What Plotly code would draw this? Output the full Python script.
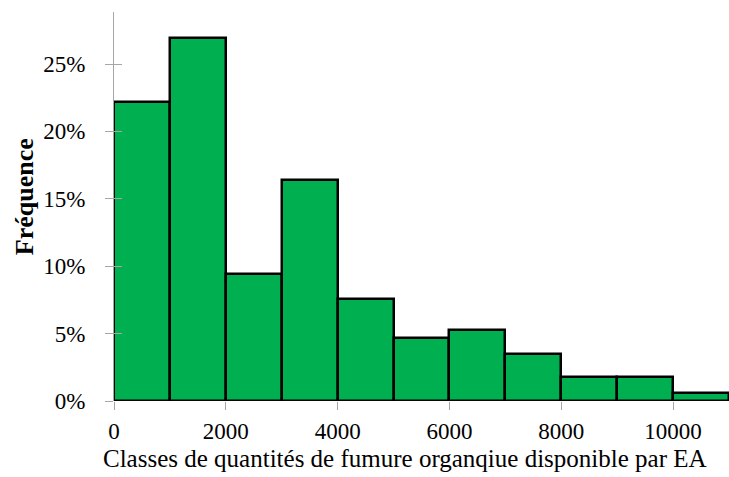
import plotly.graph_objects as go

# Histogram classes (bin edges) and relative frequencies in percent
bin_edges = [0, 1000, 2000, 3000, 4000, 5000, 6000, 7000, 8000, 9000, 10000, 11000]
freq_pct = [22.2, 26.9, 9.4, 16.4, 7.6, 4.7, 5.3, 3.5, 1.8, 1.8, 0.6]
y_ticks = [0, 5, 10, 15, 20, 25]
x_ticks = [0, 2000, 4000, 6000, 8000, 10000]

centers = [(a + b) / 2 for a, b in zip(bin_edges[:-1], bin_edges[1:])]
widths = [b - a for a, b in zip(bin_edges[:-1], bin_edges[1:])]

FONT = "Liberation Serif, Times New Roman, serif"
AXIS_GREY = "#a6a6a6"
y_range = [0, 28.86]

fig = go.Figure()
fig.add_trace(go.Bar(
    x=centers, y=freq_pct, width=widths,
    marker=dict(color="#00b050", line=dict(color="black", width=2.5)),
    showlegend=False, hoverinfo="x+y",
))
# invisible trace so the secondary y axis (inner tick halves) is drawn
fig.add_trace(go.Scatter(x=[None], y=[None], yaxis="y2", showlegend=False))

fig.update_layout(
    width=729, height=477,
    margin=dict(l=114, r=0, t=12, b=76),
    paper_bgcolor="white", plot_bgcolor="white",
    font=dict(family=FONT, size=23, color="black"),
    bargap=0,
    xaxis=dict(
        range=[bin_edges[0], bin_edges[-1]],
        tickvals=x_ticks, ticktext=[str(v) for v in x_ticks],
        ticks="outside", ticklen=8, tickcolor=AXIS_GREY, tickwidth=1,
        showline=False, showgrid=False, zeroline=False,
        ticklabelstandoff=1,
    ),
    yaxis=dict(
        range=y_range,
        tickvals=y_ticks, ticktext=[f"{v}%" for v in y_ticks],
        ticks="outside", ticklen=8, tickcolor=AXIS_GREY, tickwidth=1,
        showline=True, linecolor=AXIS_GREY, linewidth=1,
        showgrid=False, zeroline=False,
        ticklabelstandoff=15,
    ),
    yaxis2=dict(
        range=y_range, overlaying="y", side="left",
        tickvals=y_ticks, showticklabels=False,
        ticks="inside", ticklen=8, tickcolor=AXIS_GREY, tickwidth=1,
        showline=False, showgrid=False, zeroline=False,
    ),
    annotations=[
        dict(
            text="Classes de quantités de fumure organqiue disponible par EA",
            xref="paper", yref="paper", x=0.473, y=0,
            xanchor="center", yanchor="top", yshift=-43,
            borderpad=0,
            showarrow=False, font=dict(family=FONT, size=25, color="black"),
        ),
        dict(
            text="<b>Fréquence</b>",
            xref="paper", yref="paper", x=0, y=0.524,
            xanchor="center", yanchor="middle", xshift=-90,
            textangle=-90, showarrow=False,
            font=dict(family=FONT, size=26, color="black"),
        ),
    ],
)

fig.write_html("out.html")
